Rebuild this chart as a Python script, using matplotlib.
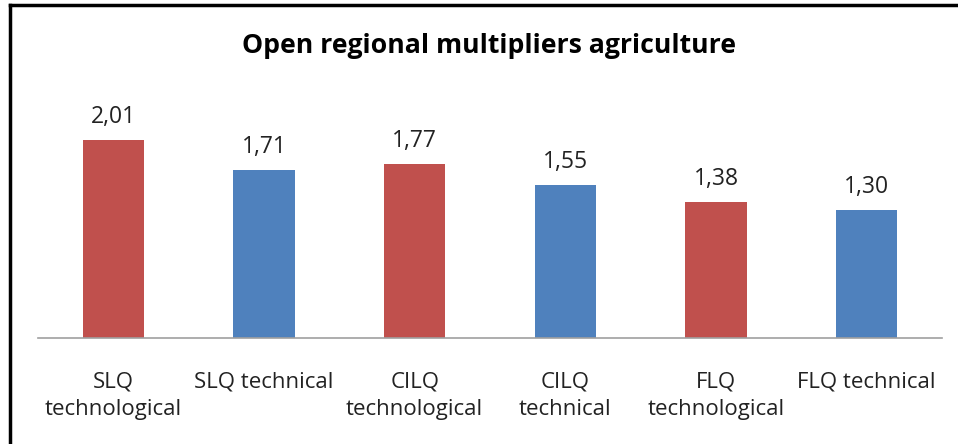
import matplotlib
matplotlib.use("Agg")
import matplotlib.pyplot as plt
from matplotlib.lines import Line2D

categories = ["SLQ\ntechnological", "SLQ technical", "CILQ\ntechnological",
              "CILQ\ntechnical", "FLQ\ntechnological", "FLQ technical"]
values = [2.01, 1.71, 1.77, 1.55, 1.38, 1.30]
value_labels = ["2,01", "1,71", "1,77", "1,55", "1,38", "1,30"]
colors = ["#C0504D", "#4F81BD", "#C0504D", "#4F81BD", "#C0504D", "#4F81BD"]
title = "Open regional multipliers agriculture"

plt.rcParams['font.family'] = ['Open Sans', 'DejaVu Sans']

W, H = 958, 444
fig = plt.figure(figsize=(W / 100, H / 100), dpi=100)
fig.patch.set_facecolor("white")

ax = fig.add_axes([38 / W, (H - 338) / H, (942 - 38) / W, (338 - 92) / H])
x = list(range(len(values)))
ax.bar(x, values, width=0.405, color=colors, zorder=2)
ax.set_xlim(-0.5, len(values) - 0.5)
ax.set_ylim(0, 2.5)
for xi, v, lab in zip(x, values, value_labels):
    ax.annotate(lab, (xi, v), xytext=(0, 8), textcoords="offset points",
                ha="center", va="bottom", fontsize=16.5, color="#222222")
ax.set_xticks(x)
ax.set_xticklabels(categories, fontsize=16, color="#222222", linespacing=1.4)
ax.tick_params(axis="x", length=0, pad=24)
ax.set_yticks([])
for s in ["top", "right", "left"]:
    ax.spines[s].set_visible(False)
ax.spines["bottom"].set_color("#A0A0A0")
ax.spines["bottom"].set_linewidth(1.2)

fig.text(489 / W, (H - 53) / H, title, ha="center", va="baseline",
         fontsize=19.2, fontweight="bold", color="black")

# chart frame (top and left edges)
fig.add_artist(Line2D([9.5 / W, 1.0], [(H - 5.5) / H, (H - 5.5) / H],
                      transform=fig.transFigure, color="black", lw=2.5))
fig.add_artist(Line2D([9.5 / W, 9.5 / W], [0, (H - 5.5) / H],
                      transform=fig.transFigure, color="black", lw=2.5))

fig.savefig("out.png", dpi=100)
